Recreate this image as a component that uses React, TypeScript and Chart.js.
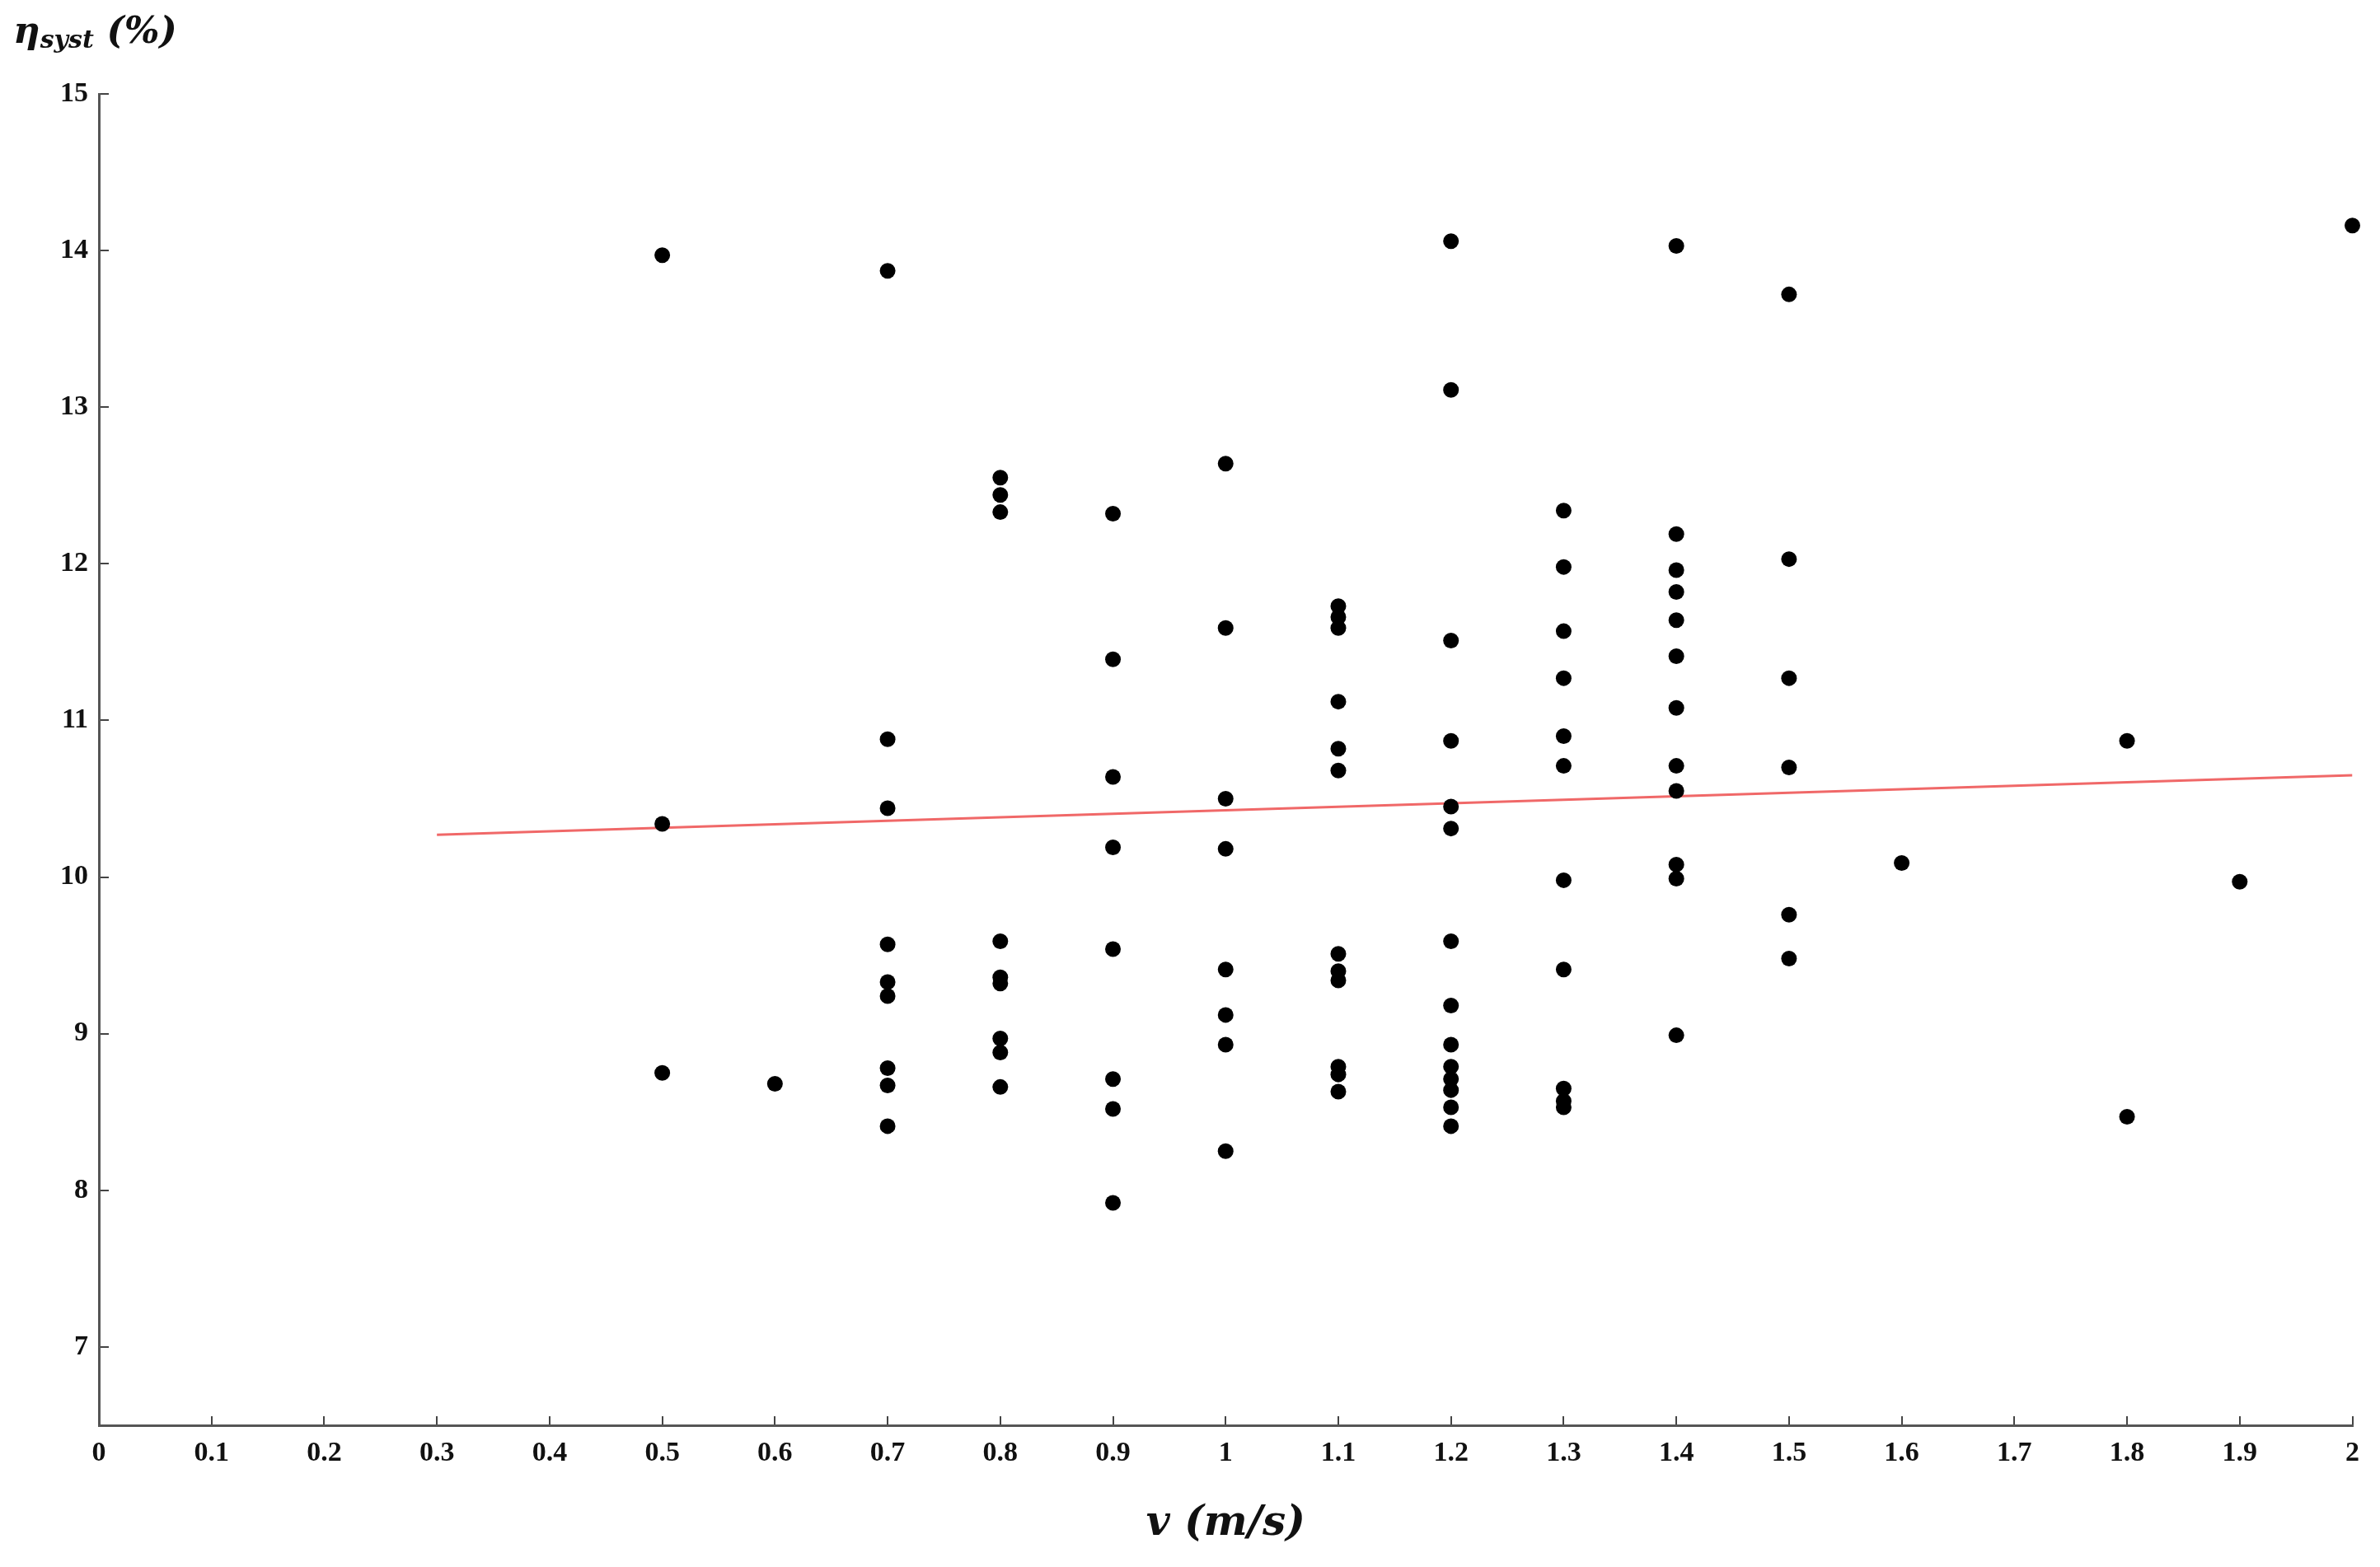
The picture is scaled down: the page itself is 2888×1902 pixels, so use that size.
import React, { useEffect, useRef } from 'react';
import { Chart, registerables } from 'chart.js';

Chart.register(...registerables);

const W = 2888;
const H = 1902;
const SERIF = "'Liberation Serif', 'Times New Roman', serif";
const TITLE_FONT = "'DejaVu Serif', 'Liberation Serif', serif";

// x axis ticks and labels (v, m/s)
const xTicks = [0, 0.1, 0.2, 0.3, 0.4, 0.5, 0.6, 0.7, 0.8, 0.9, 1, 1.1, 1.2, 1.3, 1.4, 1.5, 1.6, 1.7, 1.8, 1.9, 2];
const xTickLabels = ['0', '0.1', '0.2', '0.3', '0.4', '0.5', '0.6', '0.7', '0.8', '0.9', '1', '1.1', '1.2', '1.3', '1.4', '1.5', '1.6', '1.7', '1.8', '1.9', '2'];
// y axis ticks (eta_syst, %)
const yTicks = [7, 8, 9, 10, 11, 12, 13, 14, 15];

// measured efficiency per wind speed
const velocities = [0.5, 0.6, 0.7, 0.8, 0.9, 1.0, 1.1, 1.2, 1.3, 1.4, 1.5, 1.6, 1.8, 1.9, 2.0];
const eta05 = [13.97, 10.34, 8.75];
const eta06 = [8.68];
const eta07 = [13.87, 10.88, 10.44, 9.57, 9.33, 9.24, 8.78, 8.67, 8.41];
const eta08 = [12.55, 12.44, 12.33, 9.59, 9.36, 9.32, 8.97, 8.88, 8.66];
const eta09 = [12.32, 11.39, 10.64, 10.19, 9.54, 8.71, 8.52, 7.92];
const eta10 = [12.64, 11.59, 10.5, 10.18, 9.41, 9.12, 8.93, 8.25];
const eta11 = [11.73, 11.66, 11.59, 11.12, 10.82, 10.68, 9.51, 9.4, 9.34, 8.79, 8.74, 8.63];
const eta12 = [14.06, 13.11, 11.51, 10.87, 10.45, 10.31, 9.59, 9.18, 8.93, 8.79, 8.71, 8.64, 8.53, 8.41];
const eta13 = [12.34, 11.98, 11.57, 11.27, 10.9, 10.71, 9.98, 9.41, 8.65, 8.57, 8.53];
const eta14 = [14.03, 12.19, 11.96, 11.82, 11.64, 11.41, 11.08, 10.71, 10.55, 10.08, 9.99, 8.99];
const eta15 = [13.72, 12.03, 11.27, 10.7, 9.76, 9.48];
const eta16 = [10.09];
const eta18 = [10.87, 8.47];
const eta19 = [9.97];
const eta20 = [14.16];
const etaColumns = [eta05, eta06, eta07, eta08, eta09, eta10, eta11, eta12, eta13, eta14, eta15, eta16, eta18, eta19, eta20];

// linear trend line
const trendV = [0.3, 2.0];
const trendEta = [10.27, 10.65];

export default function App() {
  const ref = useRef<HTMLCanvasElement | null>(null);

  useEffect(() => {
    if (!ref.current) return;
    const points: { x: number; y: number }[] = [];
    velocities.forEach((v, i) => {
      etaColumns[i].forEach((e) => points.push({ x: v, y: e }));
    });
    const trend = trendV.map((v, i) => ({ x: v, y: trendEta[i] }));

    const tickFont = { family: SERIF, size: 34, weight: 'bold' as const };

    const chart = new Chart(ref.current, {
      type: 'scatter',
      data: {
        datasets: [
          {
            data: points,
            backgroundColor: '#000',
            borderColor: '#000',
            borderWidth: 0,
            pointRadius: 9.5,
            pointHoverRadius: 9.5,
            order: 0,
            clip: false as any,
          },
          {
            data: trend,
            showLine: true,
            borderColor: '#f06868',
            backgroundColor: '#f06868',
            borderWidth: 3,
            pointRadius: 0,
            pointHoverRadius: 0,
            order: 1,
          } as any,
        ],
      },
      options: {
        responsive: false,
        animation: false,
        devicePixelRatio: 1,
        events: [],
        layout: { padding: { top: 114, right: 33, left: 0, bottom: 0 } },
        plugins: { legend: { display: false }, tooltip: { enabled: false } },
        scales: {
          x: {
            type: 'linear',
            min: 0,
            max: 2,
            afterBuildTicks: (s: any) => {
              s.ticks = xTicks.map((v) => ({ value: v }));
            },
            afterFit: (s: any) => {
              s.height = H - 1730;
            },
            ticks: {
              autoSkip: false,
              maxRotation: 0,
              minRotation: 0,
              callback: (_v: any, i: number) => xTickLabels[i],
              font: tickFont,
              color: '#111',
              padding: 25,
            },
            grid: { drawOnChartArea: false, tickLength: -11, color: '#444', lineWidth: 2 },
            border: { color: '#555', width: 3 },
            title: {
              display: true,
              text: 'v (m/s)',
              font: { family: TITLE_FONT, size: 50, style: 'italic', weight: 'bold' },
              color: '#111',
              padding: { top: 0, bottom: 22 },
            },
          },
          y: {
            type: 'linear',
            min: 6.5,
            max: 15,
            afterBuildTicks: (s: any) => {
              s.ticks = yTicks.map((v) => ({ value: v }));
            },
            afterFit: (s: any) => {
              s.width = 120;
            },
            ticks: {
              autoSkip: false,
              callback: (v: any) => String(v),
              font: tickFont,
              color: '#111',
              padding: 25,
            },
            grid: { drawOnChartArea: false, tickLength: -12, color: '#444', lineWidth: 2 },
            border: { color: '#555', width: 3 },
          },
        },
      },
    } as any);
    return () => chart.destroy();
  }, []);

  return (
    <div style={{ position: 'absolute', left: 0, top: 0, width: W, height: H, background: '#fff' }}>
      <canvas ref={ref} width={W} height={H} style={{ display: 'block', width: W, height: H }} />
      <div
        style={{
          position: 'absolute',
          left: 16,
          top: 14,
          fontFamily: TITLE_FONT,
          fontStyle: 'italic',
          fontWeight: 'bold',
          fontSize: 45,
          lineHeight: 1,
          color: '#111',
          whiteSpace: 'nowrap',
        }}
      >
        η<span style={{ fontSize: 30, verticalAlign: '-0.2em' }}>syst</span> (%)
      </div>
    </div>
  );
}
